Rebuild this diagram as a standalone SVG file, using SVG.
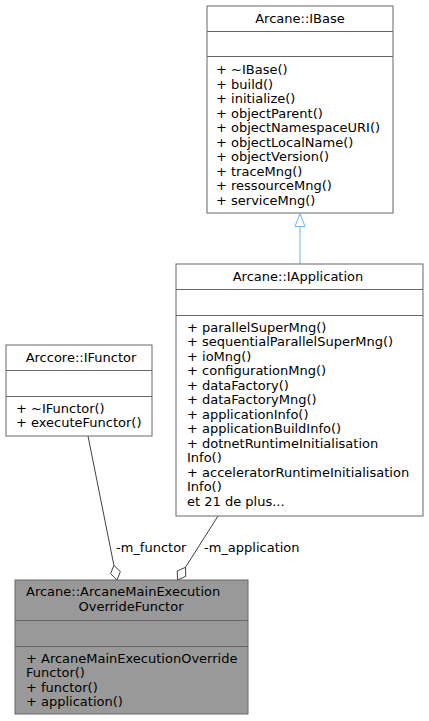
<svg xmlns="http://www.w3.org/2000/svg" width="429" height="721" viewBox="0 0 429 721">
<style>
text{font-family:"DejaVu Sans","Liberation Sans",sans-serif;font-size:13px;fill:#000}
.box{fill:#fff;stroke:#666;stroke-width:1}
.cur{fill:#999;stroke:#666;stroke-width:1}
.div{stroke:#666;stroke-width:1}
.mid{text-anchor:middle}
.edge{fill:none;stroke:#404040;stroke-width:1}
.dia{fill:#fff;stroke:#404040;stroke-width:1}
.inh{fill:none;stroke:#63b8ff;stroke-width:1}
.tri{fill:#fff;stroke:#63b8ff;stroke-width:1}
</style>
<rect width="429" height="721" fill="#fff"/>
<g id="connectors">
<g id="edge-inherit">
<line class="inh" x1="300" y1="264" x2="300" y2="226.5"/>
<polygon class="tri" points="300,213.5 305,226.5 295,226.5"/>
</g>
<g id="edge-m_functor">
<line class="edge" x1="88" y1="436" x2="113.9" y2="565.3"/>
<polygon class="dia" points="117,580 120.36,571.64 113.9,565.3 110.57,573.69"/>
<text x="116" y="551.5">-m_functor</text>
</g>
<g id="edge-m_application">
<line class="edge" x1="218" y1="516" x2="185.5" y2="567.3"/>
<polygon class="dia" points="177.5,580 185.73,576.34 185.5,567.3 177.27,570.98"/>
<text x="204" y="551.5">-m_application</text>
</g>
</g>
<g id="node-IBase">
<rect class="box" x="207" y="6" width="186" height="207"/>
<line class="div" x1="207" y1="31.5" x2="393" y2="31.5"/>
<line class="div" x1="207" y1="56.5" x2="393" y2="56.5"/>
<text class="mid" x="300" y="23">Arcane::IBase</text>
<text x="216">
<tspan x="216" y="74">+ ~IBase()</tspan>
<tspan x="216" y="88.5">+ build()</tspan>
<tspan x="216" y="103">+ initialize()</tspan>
<tspan x="216" y="117.5">+ objectParent()</tspan>
<tspan x="216" y="132">+ objectNamespaceURI()</tspan>
<tspan x="216" y="146.5">+ objectLocalName()</tspan>
<tspan x="216" y="161">+ objectVersion()</tspan>
<tspan x="216" y="175.5">+ traceMng()</tspan>
<tspan x="216" y="190">+ ressourceMng()</tspan>
<tspan x="216" y="204.5">+ serviceMng()</tspan>
</text>
</g>
<g id="node-IApplication">
<rect class="box" x="176" y="264" width="247" height="252"/>
<line class="div" x1="176" y1="289.5" x2="423" y2="289.5"/>
<line class="div" x1="176" y1="315.5" x2="423" y2="315.5"/>
<text class="mid" x="298" y="281">Arcane::IApplication</text>
<text x="187">
<tspan x="187" y="331.5">+ parallelSuperMng()</tspan>
<tspan x="187" y="346">+ sequentialParallelSuperMng()</tspan>
<tspan x="187" y="360.5">+ ioMng()</tspan>
<tspan x="187" y="375">+ configurationMng()</tspan>
<tspan x="187" y="389.5">+ dataFactory()</tspan>
<tspan x="187" y="404">+ dataFactoryMng()</tspan>
<tspan x="187" y="418.5">+ applicationInfo()</tspan>
<tspan x="187" y="433">+ applicationBuildInfo()</tspan>
<tspan x="187" y="447.5">+ dotnetRuntimeInitialisation</tspan>
<tspan x="187" y="462">Info()</tspan>
<tspan x="187" y="476.5">+ acceleratorRuntimeInitialisation</tspan>
<tspan x="187" y="491">Info()</tspan>
<tspan x="187" y="505.5">et 21 de plus...</tspan>
</text>
</g>
<g id="node-IFunctor">
<rect class="box" x="6" y="345" width="146" height="91"/>
<line class="div" x1="6" y1="370.5" x2="152" y2="370.5"/>
<line class="div" x1="6" y1="396.5" x2="152" y2="396.5"/>
<text class="mid" x="81" y="362">Arccore::IFunctor</text>
<text x="16">
<tspan x="16" y="413">+ ~IFunctor()</tspan>
<tspan x="16" y="427">+ executeFunctor()</tspan>
</text>
</g>
<g id="node-ArcaneMainExecutionOverrideFunctor">
<rect class="cur" x="15" y="580" width="233" height="134"/>
<line class="div" x1="15" y1="620.5" x2="248" y2="620.5"/>
<line class="div" x1="15" y1="646.5" x2="248" y2="646.5"/>
<text x="26" y="596">Arcane::ArcaneMainExecution</text>
<text class="mid" x="131" y="611">OverrideFunctor</text>
<text x="26">
<tspan x="26" y="663">+ ArcaneMainExecutionOverride</tspan>
<tspan x="26" y="677.3">Functor()</tspan>
<tspan x="26" y="691.5">+ functor()</tspan>
<tspan x="26" y="706">+ application()</tspan>
</text>
</g>
</svg>
